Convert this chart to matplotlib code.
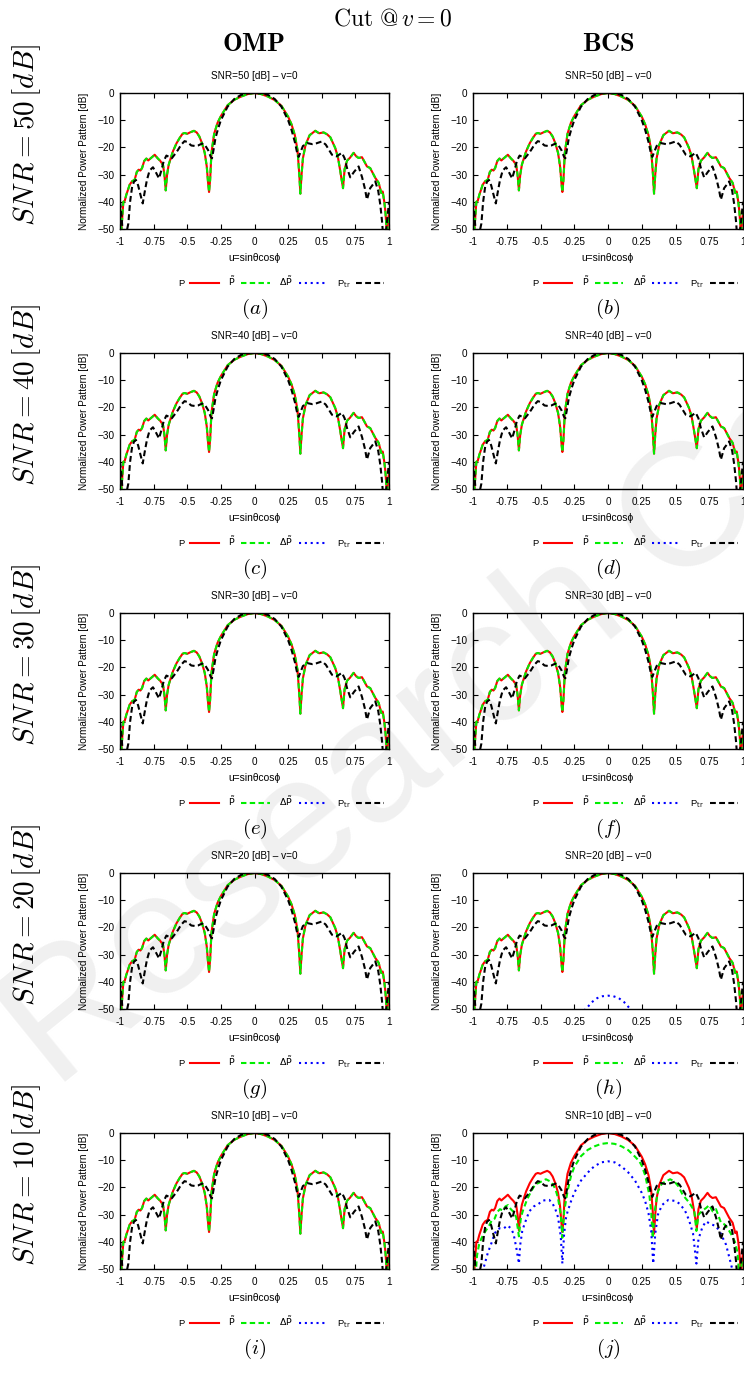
import matplotlib
matplotlib.use("Agg")
import matplotlib.pyplot as plt
from matplotlib.lines import Line2D
from matplotlib.font_manager import FontProperties

# ---------------- data ----------------
u_ticks = [-1, -0.75, -0.5, -0.25, 0, 0.25, 0.5, 0.75, 1]
u_tick_labels = ["-1", "-0.75", "-0.5", "-0.25", "0", "0.25", "0.5", "0.75", "1"]
db_ticks = [0, -10, -20, -30, -40, -50]

snr_rows = [50, 40, 30, 20, 10]
panel_letters = ["a", "b", "c", "d", "e", "f", "g", "h", "i", "j"]
methods = ["OMP", "BCS"]

# actual pattern P (same in all panels)
u_P = [-1.0, -0.993, -0.985, -0.975, -0.965, -0.953, -0.94, -0.928, -0.911, -0.891,
       -0.875, -0.861, -0.848, -0.836, -0.82, -0.804, -0.79, -0.779, -0.76, -0.742,
       -0.72, -0.7, -0.68, -0.67, -0.66, -0.65, -0.638, -0.62, -0.606, -0.58,
       -0.556, -0.535, -0.52, -0.5, -0.48, -0.45, -0.43, -0.41, -0.39, -0.37,
       -0.355, -0.345, -0.338, -0.33, -0.32, -0.3, -0.275, -0.25, -0.2, -0.15,
       -0.1, -0.05, 0.0,
       0.05, 0.1, 0.15, 0.2, 0.25, 0.275, 0.3, 0.32, 0.333, 0.341,
       0.35, 0.36, 0.38, 0.41, 0.452, 0.48, 0.514, 0.54, 0.564, 0.6,
       0.62, 0.638, 0.658, 0.67, 0.688, 0.71, 0.737, 0.755, 0.774, 0.799,
       0.82, 0.836, 0.86, 0.88, 0.898, 0.923, 0.943, 0.953, 0.965, 0.973,
       0.985, 0.993, 1.0]
P_db = [-42, -53, -47, -40, -39.7, -37.4, -35.5, -33.7, -32.5, -31.9,
        -29, -28.2, -28.5, -27.6, -25, -24.1, -24.8, -24.3, -23.5, -22.7,
        -24, -25, -26.5, -30, -35.8, -30, -26.4, -23.5, -21.4, -18.5,
        -16.5, -15, -14.7, -15, -14.5, -13.9, -14.5, -16, -18.5, -22,
        -27, -33, -36.4, -32, -22, -15, -11, -8.5, -4.5, -2.5,
        -1.3, -0.4, 0,
        -0.4, -1.3, -2.6, -4.7, -8.7, -11.5, -15.5, -21, -30, -37,
        -30, -24, -19, -15.5, -13.9, -14.8, -14.5, -15.2, -16.3, -20.2,
        -23.5, -28.8, -35, -28, -24.9, -23.8, -22, -23.2, -23.9, -23.6,
        -25.5, -27, -27.6, -29.5, -31.2, -33, -36.8, -36.2, -40, -43.5,
        -52, -47, -44]

# truncated pattern P_tr (same in all panels)
u_Ptr = [-1.0, -0.99, -0.975, -0.955, -0.938, -0.925, -0.91, -0.895, -0.881, -0.865,
         -0.85, -0.831, -0.815, -0.8, -0.78, -0.755, -0.735, -0.71, -0.69, -0.675,
         -0.655, -0.635, -0.615, -0.595, -0.57, -0.545, -0.52, -0.5, -0.47, -0.44,
         -0.42, -0.39, -0.37, -0.345, -0.325, -0.316, -0.305, -0.29, -0.27, -0.25,
         -0.2, -0.15, -0.1, -0.05, 0.0,
         0.05, 0.1, 0.15, 0.2, 0.25, 0.275, 0.3, 0.315, 0.328, 0.34,
         0.36, 0.39, 0.43, 0.46, 0.502, 0.53, 0.576, 0.61, 0.65, 0.67,
         0.688, 0.712, 0.74, 0.774, 0.8, 0.82, 0.836, 0.86, 0.898, 0.92,
         0.935, 0.948, 0.96, 0.975, 0.99, 1.0]
Ptr_db = [-40, -44, -55, -52, -48, -40, -34.5, -32.5, -32, -34,
          -37, -40.6, -36, -32, -28.5, -27.3, -29, -31.4, -28, -25,
          -23, -23.5, -24, -22.7, -21, -19, -17.7, -18, -19.3, -19.5,
          -19.3, -18.6, -19, -21, -23.5, -24, -21, -16.5, -13, -10,
          -5, -2.2, -0.7, -0.1, 0,
          -0.1, -0.7, -2.2, -5, -10, -13.5, -18, -21.5, -23.5, -22,
          -19.5, -18.4, -18.8, -18.5, -17.8, -19, -22.7, -23.3, -22, -24,
          -27.6, -31, -29, -27, -31, -35, -39.2, -35, -32.5, -36,
          -41, -47, -55, -52, -45, -40]

# estimated pattern P~ in panel (j) (elsewhere identical to P)
u_Pt_j = [-1.0, -0.985, -0.97, -0.955, -0.94, -0.92, -0.9, -0.88, -0.86, -0.84,
          -0.82, -0.8, -0.78, -0.76, -0.74, -0.72, -0.7, -0.68, -0.66, -0.645,
          -0.63, -0.6, -0.57, -0.54, -0.5, -0.46, -0.42, -0.39, -0.37, -0.35,
          -0.338, -0.325, -0.3, -0.275, -0.25, -0.2, -0.15, -0.1, -0.05, 0.0,
          0.05, 0.1, 0.15, 0.2, 0.232, 0.25, 0.275, 0.306, 0.32, 0.331,
          0.345, 0.37, 0.4, 0.43, 0.46, 0.491, 0.52, 0.553, 0.6, 0.639,
          0.655, 0.67, 0.7, 0.726, 0.75, 0.775, 0.8, 0.837, 0.86, 0.886,
          0.91, 0.94, 0.96, 0.975, 0.99, 1.0]
Pt_j_db = [-48, -55, -45, -41, -39, -37, -35.5, -34, -32, -31.5,
           -29, -28, -28.5, -27, -26.5, -28, -29, -31, -38, -31,
           -28.5, -24.5, -21.5, -19, -18, -17, -18, -20.5, -24, -30,
           -38.5, -29, -21.5, -16, -12.5, -8.5, -6.2, -4.9, -4, -3.7,
           -4, -4.9, -6.3, -8.7, -10.4, -12, -15.5, -22.7, -29, -38.6,
           -29, -21.5, -18.5, -17.8, -17, -17.8, -19.5, -22.7, -25.5, -28.6,
           -36, -30, -28.5, -27.6, -26.5, -28.8, -28, -33, -33.5, -35,
           -37, -40, -44, -55, -48, -46]

# error pattern dP~ in panel (j)
u_dP_j = [-1.0, -0.95, -0.93, -0.91, -0.89, -0.867, -0.84, -0.82, -0.8, -0.77,
          -0.745, -0.72, -0.7, -0.68, -0.66, -0.65, -0.635, -0.62, -0.6, -0.583,
          -0.55, -0.521, -0.48, -0.435, -0.41, -0.39, -0.37, -0.35, -0.338, -0.325,
          -0.311, -0.3, -0.274, -0.25, -0.224, -0.2, -0.163, -0.13, -0.1, -0.05, 0.0,
          0.05, 0.1, 0.15, 0.2, 0.25, 0.275, 0.3, 0.32, 0.335, 0.35,
          0.37, 0.4, 0.447, 0.5, 0.53, 0.57, 0.6, 0.63, 0.655, 0.67,
          0.7, 0.726, 0.76, 0.8, 0.83, 0.874, 0.9, 0.93, 0.96, 1.0]
dP_j_db = [-55, -55, -51, -47.6, -44, -41, -37, -35.5, -35, -35,
           -34, -35, -37, -42, -48, -41, -36, -33.7, -31, -28.8,
           -27, -26.3, -24.8, -24.6, -26, -28, -31, -38, -48, -37,
           -31.2, -29, -25.1, -22, -19.6, -17.5, -15.3, -13.5, -12.2, -10.8, -10.4,
           -10.8, -12.3, -14.5, -17.5, -22, -25, -29.5, -36, -48, -37,
           -30, -26.5, -24.6, -25, -26, -28.5, -32, -37, -48, -39,
           -34.5, -32.5, -33.5, -34.2, -36.5, -41, -46, -52, -55, -55]

# error pattern dP~ in panel (h)
u_dP_h = [-0.25, -0.163, -0.12, -0.08, -0.04, 0.0, 0.04, 0.08, 0.12, 0.165, 0.25]
dP_h_db = [-53, -50, -47.5, -46, -45.3, -45.1, -45.3, -46, -47.5, -50, -53]

# ---------------- styling ----------------
SANS = ["Liberation Sans", "DejaVu Sans"]
RED, GREEN, BLUE, BLACK = "#ff0000", "#00ee00", "#0000ff", "#000000"
sty_P = dict(color=RED, lw=1.5, ls="-")
sty_Pt = dict(color=GREEN, lw=1.5, ls=(0, (2.6, 1.6)))
sty_dP = dict(color=BLUE, lw=1.5, ls=(0, (1.0, 1.8)))
sty_tr = dict(color=BLACK, lw=1.5, ls=(0, (2.8, 1.6)))

W, H = 744, 1374
fig = plt.figure(figsize=(W / 100, H / 100), dpi=100)

# faint watermark behind everything
fig.text(55 / W, 1 - 1090 / H, "Research Center", fontsize=125, color="#f0f0f0",
         family=SANS, rotation=39, rotation_mode="anchor", ha="left", va="baseline",
         zorder=-10)

fig.text(392 / W, 1 - 19 / H, r"$\mathrm{Cut}\ @\, v = 0$", fontsize=17,
         ha="center", va="center", math_fontfamily="cm")
fig.text(254 / W, 1 - 44 / H, r"$\mathbf{OMP}$", fontsize=19, ha="center",
         va="center", math_fontfamily="cm")
fig.text(608 / W, 1 - 44 / H, r"$\mathbf{BCS}$", fontsize=19, ha="center",
         va="center", math_fontfamily="cm")

legend_labels = ["P", r"$\mathrm{\tilde{P}}$", r"$\Delta\mathrm{\tilde{P}}$", r"P$_{\mathrm{tr}}$"]
legend_handles = [Line2D([], [], **sty_P), Line2D([], [], **sty_Pt),
                  Line2D([], [], **sty_dP), Line2D([], [], **sty_tr)]
leg_font = FontProperties(family=SANS, size=6.8, math_fontfamily="dejavusans")

col_left = [120, 473]
col_width = [269, 270]
pitch = 260
for r, snr in enumerate(snr_rows):
    top = 93 + pitch * r
    bottom = top + 136
    fig.text(27 / W, 1 - (top + 42) / H, r"$SNR = %d\,[dB]$" % snr, fontsize=21,
             rotation=90, ha="center", va="center", math_fontfamily="cm")
    for c in range(2):
        idx = 2 * r + c
        ax = fig.add_axes([col_left[c] / W, 1 - bottom / H, col_width[c] / W, 136 / H])
        ax.set_facecolor("none")
        if idx == 9:
            ax.plot(u_P, P_db, **sty_P)
            ax.plot(u_Pt_j, Pt_j_db, **sty_Pt)
            ax.plot(u_dP_j, dP_j_db, **sty_dP)
        else:
            ax.plot(u_P, P_db, **sty_P)
            ax.plot(u_P, P_db, **sty_Pt)
            if idx == 7:
                ax.plot(u_dP_h, dP_h_db, **sty_dP)
        ax.plot(u_Ptr, Ptr_db, **sty_tr)

        ax.set_xlim(-1, 1)
        ax.set_ylim(-50, 0)
        ax.set_xticks(u_ticks)
        ax.set_xticklabels(u_tick_labels)
        ax.set_yticks(db_ticks)
        ax.tick_params(direction="in", top=True, right=True, length=3.5, width=0.8,
                       labelsize=7.2)
        ax.tick_params(axis="x", pad=6)
        ax.tick_params(axis="y", pad=4)
        for lab in ax.get_xticklabels() + ax.get_yticklabels():
            lab.set_family(SANS)
        for sp in ax.spines.values():
            sp.set_linewidth(1.0)
        ax.set_title("SNR=%d [dB] \u2013 v=0" % snr, fontsize=7.2, family=SANS, pad=10)
        ax.set_xlabel("u=sin\u03b8cos\u03d5", fontsize=7.4, family=SANS, labelpad=4)
        ax.set_ylabel("Normalized Power Pattern [dB]", fontsize=7.2, family=SANS,
                      labelpad=6)
        ax.legend(legend_handles, legend_labels, loc="center",
                  bbox_to_anchor=(0.6, -0.39), ncol=4, frameon=False,
                  markerfirst=False, handlelength=3.0, handletextpad=0.6,
                  columnspacing=1.0, prop=leg_font)
        cx = col_left[c] + col_width[c] / 2
        fig.text(cx / W, 1 - (bottom + 80) / H, r"$(%s)$" % panel_letters[idx],
                 fontsize=15, ha="center", va="center", math_fontfamily="cm")

fig.savefig("out.png", dpi=100)
